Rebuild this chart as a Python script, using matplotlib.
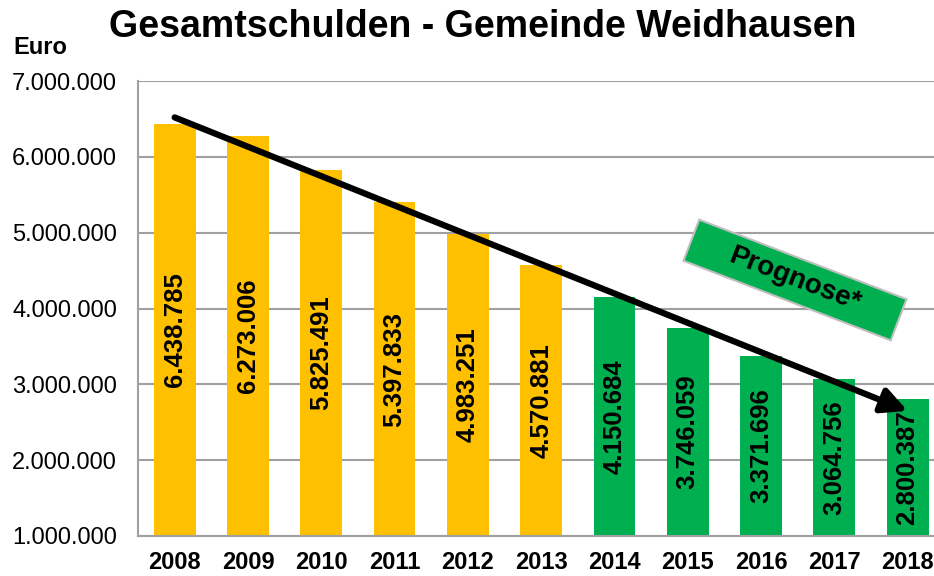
import matplotlib.pyplot as plt
from matplotlib.ticker import FuncFormatter
from matplotlib.patches import Rectangle
from matplotlib.transforms import Affine2D

plt.rcParams['font.family'] = ['Liberation Sans', 'DejaVu Sans']

years = ["2008", "2009", "2010", "2011", "2012", "2013",
         "2014", "2015", "2016", "2017", "2018"]
schulden = [6438785, 6273006, 5825491, 5397833, 4983251, 4570881,
            4150684, 3746059, 3371696, 3064756, 2800387]
prognose = [False] * 6 + [True] * 5

# trend arrow (start / end in data units)
trend_start = (0, 6520000)
trend_end = (10, 2650000)

GELB = '#FFC000'
GRUEN = '#00B050'
GRID = '#A0A0A0'


def de_format(v, pos=None):
    return f"{int(v):,}".replace(",", ".")


fig = plt.figure(figsize=(9.34, 5.76), dpi=100)
ax = fig.add_axes([138 / 934, 1 - 536 / 576, 1 - 138 / 934, (536 - 81) / 576])

farben = [GRUEN if p else GELB for p in prognose]
x = list(range(len(years)))
ax.bar(x, schulden, width=0.57, color=farben, zorder=2)

ymin, ymax = 1000000, 7000000
ax.set_ylim(ymin, ymax)
ax.set_xlim(-0.5, 10.36)
ax.set_yticks(range(ymin, ymax + 1, 1000000))
ax.yaxis.set_major_formatter(FuncFormatter(de_format))
ax.grid(axis='y', color=GRID, linewidth=1.5, zorder=0)
ax.set_axisbelow(True)

for s in ['top', 'right']:
    ax.spines[s].set_visible(False)
for s in ['left', 'bottom']:
    ax.spines[s].set_color(GRID)
    ax.spines[s].set_linewidth(1.5)

ax.set_xticks(x)
ax.set_xticklabels(years, fontsize=17, fontweight='bold')
ax.tick_params(axis='x', length=0, pad=11)
ax.tick_params(axis='y', length=0, pad=15, labelsize=17)

for xi, v in zip(x, schulden):
    ax.text(xi, (ymin + v) / 2, de_format(v), rotation=90, ha='center',
            va='center', fontsize=18.5, fontweight='bold', color='black', zorder=4)

ax.annotate('', xy=trend_end, xytext=trend_start,
            arrowprops=dict(arrowstyle='-|>', color='black', lw=4.5,
                            mutation_scale=38, shrinkA=0, shrinkB=0),
            zorder=5, annotation_clip=False)

# "Prognose*" box, rotated, in figure pixels
cx, cy = 795, 576 - 280
box = Rectangle((cx - 111, cy - 22), 222, 44, facecolor=GRUEN,
                edgecolor='#BFBFBF', linewidth=1.5,
                transform=Affine2D().rotate_deg_around(cx, cy, -21), zorder=6)
fig.add_artist(box)
fig.text(cx / 934, cy / 576, 'Prognose*', rotation=-21, ha='center',
         va='center', fontsize=20, fontweight='bold', color='black',
         rotation_mode='anchor', zorder=7)

fig.text(483 / 934, 1 - 27 / 576, 'Gesamtschulden - Gemeinde Weidhausen',
         ha='center', va='center', fontsize=27, fontweight='bold')
fig.text(13 / 934, 1 - 47 / 576, 'Euro', ha='left', va='center',
         fontsize=17, fontweight='bold')

fig.savefig('out.png', dpi=100)
